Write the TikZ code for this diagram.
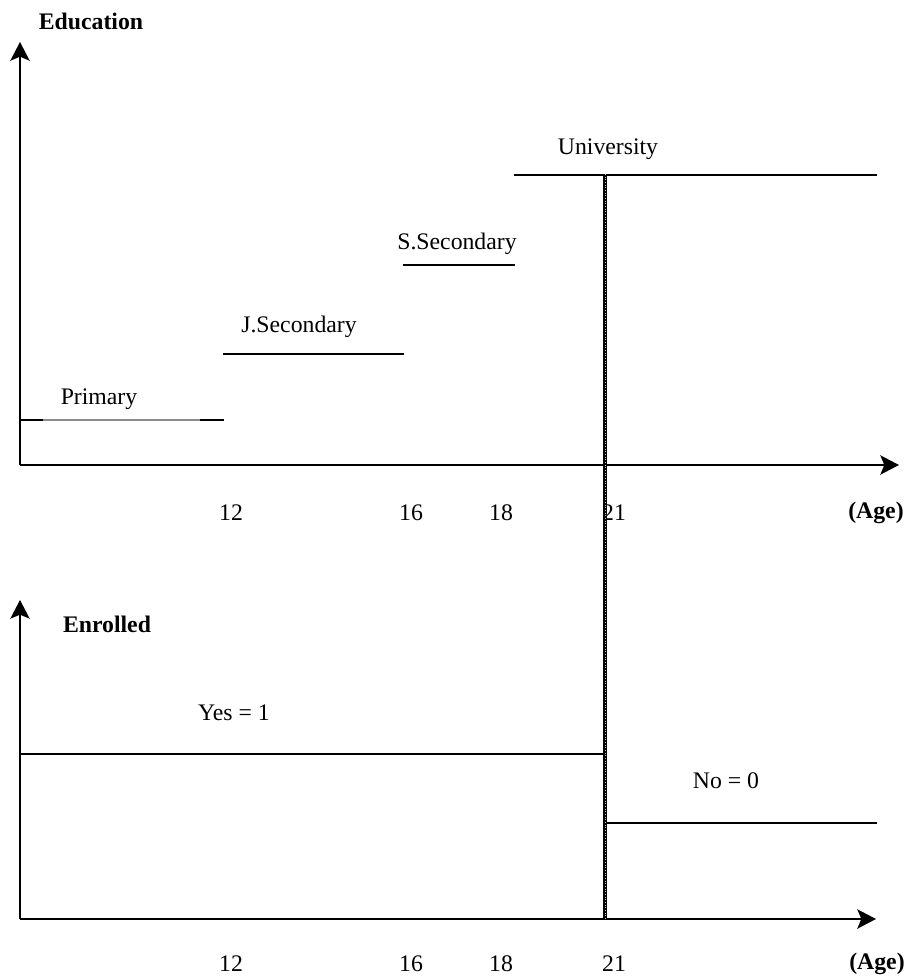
\documentclass[tikz,border=0pt]{standalone}
\usepackage{fontspec}
\setmainfont{Liberation Serif}
\usepackage{tikz}
\usetikzlibrary{arrows.meta, positioning, calc}
\definecolor{kline}{HTML}{000000}
\definecolor{kthin}{HTML}{8C8C8C}
\tikzset{
  axisarrow/.style={-{Stealth[length=14pt, width=14.5pt, inset=3pt]}, kline, line width=1.4pt},
  level/.style={kline, line width=1.4pt},
  levelthin/.style={kthin, line width=0.8pt},
  cutline/.style={kline, line width=2.4pt},
  cutdots/.style={gray!45, line width=0.4pt, dash pattern=on 0.8pt off 1.2pt},
  lvllabel/.style={inner sep=0pt, font=\fontsize{17.8}{20}\selectfont},
  axlabel/.style={inner sep=0pt, font=\fontsize{17.8}{20}\selectfont\bfseries},
}

\begin{document}
\begin{tikzpicture}[x=0.75pt, y=-0.75pt]

  \useasboundingbox (0,0) rectangle (910,979);

  % education panel
  \coordinate (eo) at (20,465);
  \coordinate (ey) at (20,42);
  \coordinate (ex) at (899,465);
  \draw[axisarrow] (eo) -- (ey);
  \draw[axisarrow] (eo) -- (ex);
  \node[axlabel] (edu) at (91,21) {Education};

  \coordinate (pa) at (20,420);  \coordinate (pb) at (43,420);
  \coordinate (pc) at (200,420); \coordinate (pd) at (224,420);
  \draw[level] (pa) -- (pb);
  \draw[levelthin] (pb) -- (pc);
  \draw[level] (pc) -- (pd);
  \node[lvllabel] (prim) at (99,399) {Primary};

  \coordinate (ja) at (223,354); \coordinate (jb) at (404,354);
  \draw[level] (ja) -- (jb);
  \node[lvllabel] (jsec) at (299,327) {J.Secondary};

  \coordinate (sa) at (403,265); \coordinate (sb) at (515,265);
  \draw[level] (sa) -- (sb);
  \node[lvllabel] (ssec) at (457,244) {S.Secondary};

  \coordinate (ua) at (514,175); \coordinate (ub) at (877,175);
  \draw[level] (ua) -- (ub);
  \node[lvllabel] (univ) at (608,149) {University};

  \node[lvllabel] (t12a) at (231,513) {12};
  \node[lvllabel] (t16a) at (411,513) {16};
  \node[lvllabel] (t18a) at (501,513) {18};
  \node[lvllabel] (t21a) at (614,513) {21};
  \node[axlabel] (agea) at (876,513) {(Age)};

  % enrolment panel
  \coordinate (no) at (20,919);
  \coordinate (ny) at (20,600);
  \coordinate (nx) at (876,919);
  \draw[axisarrow] (no) -- (ny);
  \draw[axisarrow] (no) -- (nx);
  \node[axlabel] (enr) at (107,624) {Enrolled};

  \coordinate (ya) at (20,754); \coordinate (yb) at (605,754);
  \draw[level] (ya) -- (yb);
  \node[lvllabel] (yes) at (234,713) {Yes = 1};

  \coordinate (na) at (605,823); \coordinate (nb) at (877,823);
  \draw[level] (na) -- (nb);
  \node[lvllabel] (nolbl) at (726,781) {No = 0};

  \node[lvllabel] (t12b) at (231,964) {12};
  \node[lvllabel] (t16b) at (411,964) {16};
  \node[lvllabel] (t18b) at (501,964) {18};
  \node[lvllabel] (t21b) at (614,964) {21};
  \node[axlabel] (ageb) at (877,964) {(Age)};

  % age 21 cut
  \coordinate (ct) at (605,174);
  \coordinate (cb) at (605,919);
  \draw[cutline] (ct) -- (cb);
  \draw[cutdots] (ct) -- (cb);

\end{tikzpicture}
\end{document}
